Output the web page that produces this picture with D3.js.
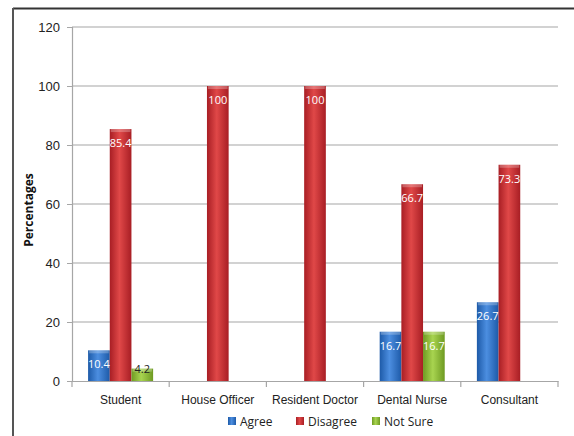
<!DOCTYPE html>
<html><head><meta charset="utf-8">
<script src="https://cdn.jsdelivr.net/npm/d3@7"></script>
<style>body{margin:0;background:#fff;}svg{display:block;font-family:"Open Sans","Noto Sans",sans-serif;}</style>
</head><body>
<svg id="c" width="574" height="436"></svg>
<script>
const categories = ["Student","House Officer","Resident Doctor","Dental Nurse","Consultant"];
const seriesNames = ["Agree","Disagree","Not Sure"];
const agree = [10.4, null, null, 16.7, 26.7];
const disagree = [85.4, 100, 100, 66.7, 73.3];
const notSure = [4.2, null, null, 16.7, null];
const yTicks = [0,20,40,60,80,100,120];
const colors = {"Agree":["#1d5aa8","#4c8ee0"],"Disagree":["#a81e24","#e04848"],"Not Sure":["#6e9a22","#a8d450"]};

const svg = d3.select("#c");
const L=72, R=558, T=27, B=381;
const x = d3.scaleBand().domain(categories).range([L,R]).padding(0);
const y = d3.scaleLinear().domain([0,120]).range([B,T]);
const bw = x.bandwidth()*0.223;
const xs = d3.scaleBand().domain(seriesNames).range([0,bw*3]);

const defs = svg.append("defs");
seriesNames.forEach((s,i)=>{
  const g = defs.append("linearGradient").attr("id","g"+i).attr("x1","0").attr("x2","1").attr("y1","0").attr("y2","0");
  g.append("stop").attr("offset","0").attr("stop-color",colors[s][0]);
  g.append("stop").attr("offset","0.45").attr("stop-color",colors[s][1]);
  g.append("stop").attr("offset","1").attr("stop-color",colors[s][0]);
});

// frame
svg.append("line").attr("x1",13).attr("x2",574).attr("y1",8.5).attr("y2",8.5).attr("stroke","#333").attr("stroke-width",2);
svg.append("line").attr("x1",13).attr("x2",13).attr("y1",8).attr("y2",436).attr("stroke","#555").attr("stroke-width",2);

// grid
svg.append("g").selectAll("line").data(yTicks.filter(d=>d>0)).join("line")
  .attr("x1",L).attr("x2",R).attr("y1",d=>y(d)).attr("y2",d=>y(d))
  .attr("stroke","#a6a6a6").attr("stroke-width",1.2);

// y axis
const ya = svg.append("g").attr("transform",`translate(${L},0)`)
  .call(d3.axisLeft(y).tickValues(yTicks).tickSize(5).tickPadding(7));
ya.select(".domain").attr("stroke","#a6a6a6").attr("stroke-width",1.2);
ya.selectAll(".tick line").attr("stroke","#a6a6a6");
ya.selectAll("text").attr("font-size",13).attr("fill","#222");

// x axis
const xa = svg.append("g").attr("transform",`translate(0,${B})`)
  .call(d3.axisBottom(x).tickSize(0).tickPadding(14));
xa.select(".domain").attr("stroke","#a6a6a6").attr("stroke-width",1.2);
xa.selectAll("text").attr("font-size",12).attr("fill","#222");
svg.append("g").selectAll("line").data(d3.range(categories.length+1)).join("line")
  .attr("x1",i=>L+i*x.bandwidth()).attr("x2",i=>L+i*x.bandwidth())
  .attr("y1",B).attr("y2",B+6).attr("stroke","#a6a6a6").attr("stroke-width",1.2);

// y title
svg.append("text").attr("transform","translate(33,210) rotate(-90)").attr("text-anchor","middle")
  .attr("font-size",12).attr("font-weight","bold").attr("fill","#111").text("Percentages");

// bars
const data = [];
const vals = [agree, disagree, notSure];
categories.forEach((c,ci)=>seriesNames.forEach((s,si)=>{
  const v = vals[si][ci];
  if(v!=null) data.push({c,s,si,v});
}));
const g0 = (x.bandwidth()-bw*3)/2;
const bars = svg.append("g");
bars.selectAll("rect").data(data).join("rect")
  .attr("x",d=>x(d.c)+g0+xs(d.s)).attr("width",xs.bandwidth())
  .attr("y",d=>y(d.v)).attr("height",d=>B-y(d.v))
  .attr("fill",d=>`url(#g${d.si})`);
bars.selectAll("rect.top").data(data).join("rect").attr("class","top")
  .attr("x",d=>x(d.c)+g0+xs(d.s)+1).attr("width",xs.bandwidth()-2)
  .attr("y",d=>y(d.v)).attr("height",3)
  .attr("fill","#fff").attr("opacity",0.25);
bars.selectAll("text").data(data).join("text")
  .attr("x",d=>x(d.c)+g0+xs(d.s)+xs.bandwidth()/2)
  .attr("y",d=>(B-y(d.v))<20 ? y(d.v)+4 : y(d.v)+18)
  .attr("text-anchor","middle").attr("font-size",11)
  .attr("fill",d=>(B-y(d.v))<20 ? "#222" : "#fff")
  .text(d=>d.v);

// legend
const legX = [228, 296, 372];
const leg = svg.append("g");
seriesNames.forEach((s,i)=>{
  leg.append("rect").attr("x",legX[i]).attr("y",417).attr("width",8).attr("height",8).attr("fill",`url(#g${i})`);
  leg.append("text").attr("x",legX[i]+12).attr("y",426).attr("font-size",12).attr("fill","#222").text(s);
});
</script>
</body></html>
